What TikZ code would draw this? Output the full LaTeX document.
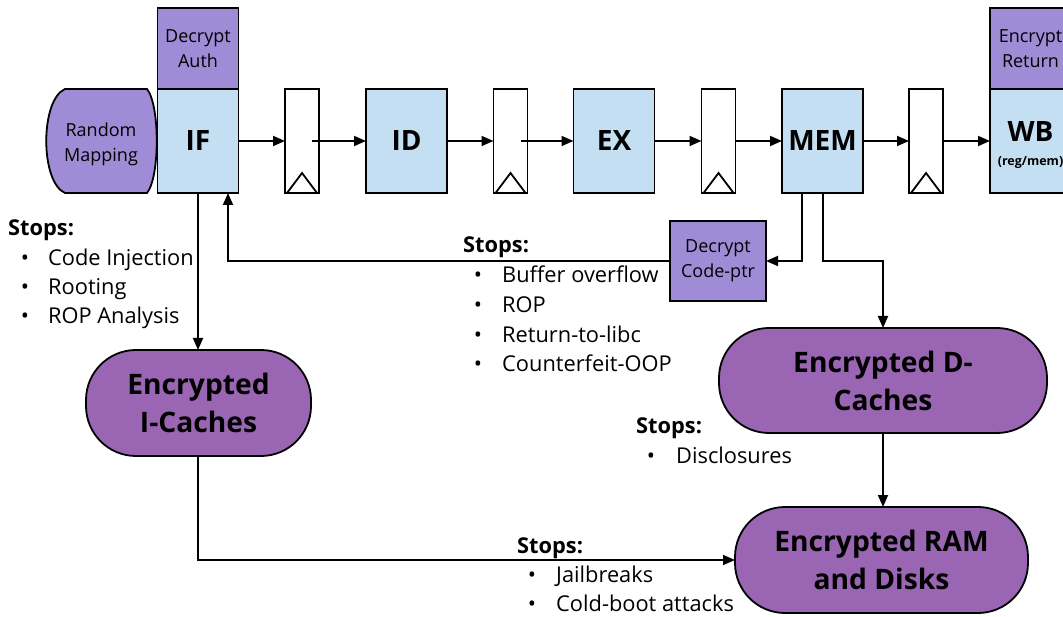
\documentclass[tikz,border=0pt]{standalone}
\usepackage{fontspec}
\setmainfont{Open Sans}
\usetikzlibrary{arrows.meta}
\definecolor{stageblue}{HTML}{C4DFF1}
\definecolor{lightpurple}{HTML}{A08CD6}
\definecolor{darkpurple}{HTML}{9A65B2}
\begin{document}
\begin{tikzpicture}[x=1pt,y=-1pt,
 box/.style={draw, line width=1.8pt, inner sep=0pt, outer sep=0pt, align=center},
 stage/.style={box, fill=stageblue, minimum width=81pt, minimum height=104pt, font=\fontsize{28}{32}\selectfont\bfseries},
 crypt/.style={box, fill=lightpurple, font=\fontsize{18}{25}\selectfont},
 regbox/.style={box, fill=white, minimum width=34pt, minimum height=104pt},
 store/.style={box, fill=darkpurple, rounded corners=50pt, font=\fontsize{28.2}{38}\selectfont\bfseries},
 arr/.style={line width=1.8pt, -{Triangle[length=12pt,width=10pt]}},
 conn/.style={line width=1.8pt},
 txt/.style={anchor=base west, inner sep=0pt, font=\fontsize{21.8}{29}\selectfont},
 head/.style={anchor=base west, inner sep=0pt, font=\fontsize{21.8}{29}\selectfont\bfseries},
 bul/.style={anchor=base, inner sep=0pt, font=\fontsize{21.8}{29}\selectfont}]
\useasboundingbox (0,0) rectangle (1063,617);
\clip (0,0) rectangle (1063,617);

% Random mapping shape
\draw[line width=1.8pt, fill=lightpurple] (65,89) -- (147,89)
  .. controls (160,105) and (160,177) .. (147,193) -- (65,193)
  .. controls (40,182) and (40,100) .. (65,89) -- cycle;
\node[inner sep=0pt, align=center, font=\fontsize{18}{25}\selectfont] (rm) at (101,144) {Random\\Mapping};

% pipeline
\node[crypt, minimum width=81pt, minimum height=81pt] (auth) at (198,48.5) {Decrypt\\Auth};
\node[stage] (IF) at (198,141) {IF};
\node[regbox] (r1) at (302,141) {};
\node[stage] (ID) at (406.5,141) {ID};
\node[regbox] (r2) at (510.5,141) {};
\node[stage] (EX) at (614,141) {EX};
\node[regbox] (r3) at (718.5,141) {};
\node[stage] (MEM) at (822.5,141) {MEM};
\node[regbox] (r4) at (926,141) {};
\node[crypt, minimum width=81pt, minimum height=81pt] (ret) at (1030.5,48.5) {Encrypt\\Return};
\node[stage] (WB) at (1030.5,141) {};
\node[font=\fontsize{28}{32}\selectfont\bfseries, inner sep=0pt] (wbt) at (1030.5,132) {WB};
\node[font=\fontsize{12.5}{15}\selectfont\bfseries, inner sep=0pt] (wbs) at (1030.5,163) {(reg/mem)};

\foreach \r in {r1,r2,r3,r4}{
  \draw[conn] ([xshift=2pt]\r.south west) -- ([yshift=20pt]\r.south) -- ([xshift=-2pt]\r.south east);
}

\draw[arr] (IF.east) -- (r1.west);
\draw[arr] ([xshift=-7pt]r1.east) -- (ID.west);
\draw[arr] (ID.east) -- (r2.west);
\draw[arr] ([xshift=-7pt]r2.east) -- (EX.west);
\draw[arr] (EX.east) -- (r3.west);
\draw[arr] (r3.east) -- (MEM.west);
\draw[arr] (MEM.east) -- (r4.west);
\draw[arr] (r4.east) -- (WB.west);

% lower part
\node[crypt, minimum width=96pt, minimum height=80pt] (cp) at (718,261) {Decrypt\\Code-ptr};
\node[store, minimum width=225pt, minimum height=106pt] (ic) at (198.5,403) {Encrypted\\I-Caches};
\node[store, minimum width=328pt, minimum height=105pt] (dc) at (883,380.5) {Encrypted D-\\Caches};
\node[store, minimum width=293pt, minimum height=106pt] (ram) at (881.5,560) {Encrypted RAM\\and Disks};

\draw[arr] (IF.south) -- (IF.south |- ic.north);
\draw[arr] (cp.west) -| ([xshift=30pt]IF.south);
\draw[arr] ([xshift=-20.5pt]MEM.south) |- (cp.east);
\draw[arr] ([xshift=0.5pt]MEM.south) -- ++(0,68) -| (dc.north);
\draw[arr] (dc.south) -- (dc.south |- ram.north);
\draw[arr] ([xshift=-0.5pt]ic.south) |- (ram.west);

% Stops text blocks
\node[head] (s1) at (8,236) {Stops:};
\node[bul] (s1b1) at (25,266) {•};
\node[txt] (s1t1) at (48,266) {Code Injection};
\node[bul] (s1b2) at (25,295) {•};
\node[txt] (s1t2) at (48,295) {Rooting};
\node[bul] (s1b3) at (25,324) {•};
\node[txt] (s1t3) at (48,324) {ROP Analysis};

\node[head] (s2) at (463,253) {Stops:};
\node[bul] (s2b1) at (478,283) {•};
\node[txt] (s2t1) at (502,283) {Buffer overflow};
\node[bul] (s2b2) at (478,313) {•};
\node[txt] (s2t2) at (502,313) {ROP};
\node[bul] (s2b3) at (478,343) {•};
\node[txt] (s2t3) at (502,343) {Return-to-libc};
\node[bul] (s2b4) at (478,372) {•};
\node[txt] (s2t4) at (502,372) {Counterfeit-OOP};

\node[head] (s3) at (636,434) {Stops:};
\node[bul] (s3b1) at (651,463) {•};
\node[txt] (s3t1) at (676,463) {Disclosures};

\node[head] (s4) at (517,553) {Stops:};
\node[bul] (s4b1) at (532,582) {•};
\node[txt] (s4t1) at (556,582) {Jailbreaks};
\node[bul] (s4b2) at (532,611) {•};
\node[txt] (s4t2) at (556,611) {Cold-boot attacks};
\end{tikzpicture}
\end{document}
